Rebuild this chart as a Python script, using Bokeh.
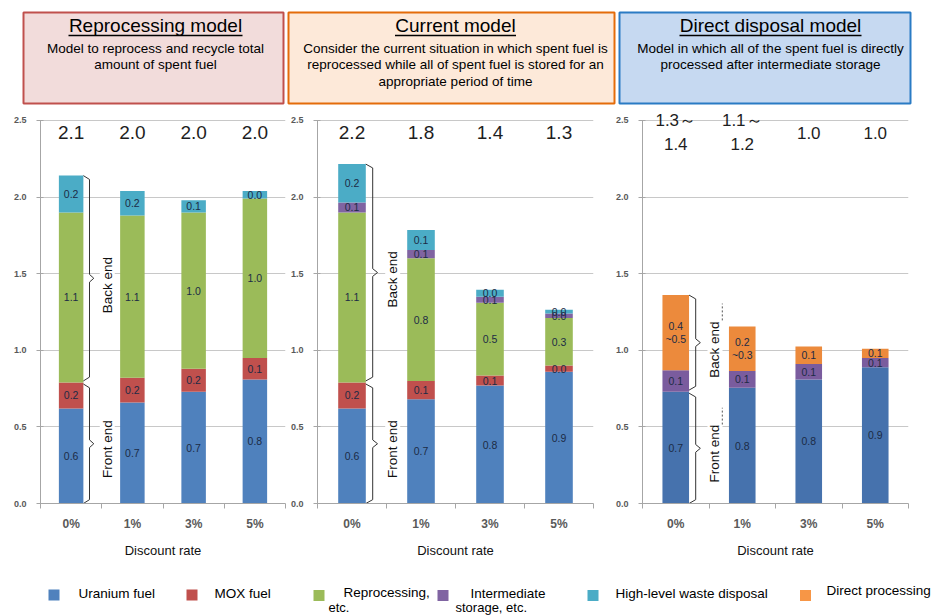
import numpy as np
from bokeh.plotting import figure
from bokeh.layouts import column, row
from bokeh.models import ColumnDataSource, Range1d, FixedTicker, NumeralTickFormatter, Label, LabelSet
from bokeh.core.properties import value
from bokeh.embed import file_html
from bokeh.resources import INLINE

# ---------------- data ----------------
categories = ["0%", "1%", "3%", "5%"]
y_ticks = [0.0, 0.5, 1.0, 1.5, 2.0, 2.5]

# Reprocessing model (yen/kWh)
rep_uranium = [0.62, 0.66, 0.73, 0.81]
rep_mox = [0.17, 0.16, 0.15, 0.14]
rep_reproc = [1.11, 1.06, 1.02, 1.04]
rep_hlw = [0.24, 0.16, 0.08, 0.05]
rep_uranium_lab = ["0.6", "0.7", "0.7", "0.8"]
rep_mox_lab = ["0.2", "0.2", "0.2", "0.1"]
rep_reproc_lab = ["1.1", "1.1", "1.0", "1.0"]
rep_hlw_lab = ["0.2", "0.2", "0.1", "0.0"]
rep_totals = ["2.1", "2.0", "2.0", "2.0"]

# Current model
cur_uranium = [0.62, 0.68, 0.77, 0.86]
cur_mox = [0.17, 0.12, 0.065, 0.04]
cur_reproc = [1.11, 0.80, 0.475, 0.31]
cur_inter = [0.065, 0.055, 0.04, 0.03]
cur_hlw = [0.25, 0.13, 0.045, 0.025]
cur_uranium_lab = ["0.6", "0.7", "0.8", "0.9"]
cur_mox_lab = ["0.2", "0.1", "0.1", "0.0"]
cur_reproc_lab = ["1.1", "0.8", "0.5", "0.3"]
cur_inter_lab = ["0.1", "0.1", "0.1", "0.0"]
cur_hlw_lab = ["0.2", "0.1", "0.0", "0.0"]
cur_totals = ["2.2", "1.8", "1.4", "1.3"]

# Direct disposal model
dir_uranium = [0.73, 0.755, 0.81, 0.89]
dir_inter = [0.14, 0.11, 0.10, 0.06]
dir_direct = [0.49, 0.29, 0.115, 0.06]
dir_uranium_lab = ["0.7", "0.8", "0.8", "0.9"]
dir_inter_lab = ["0.1", "0.1", "0.1", "0.1"]
dir_direct_lab = ["0.4\n~0.5", "0.2\n~0.3", "0.1", "0.1"]
dir_totals = ["1.3\uff5e\n1.4", "1.1\uff5e\n1.2", "1.0", "1.0"]

header_titles = ["Reprocessing model", "Current model", "Direct disposal model"]
header_notes = [
    "Model to reprocess and recycle total\namount of spent fuel",
    "Consider the current situation in which spent fuel is\nreprocessed while all of spent fuel is stored for an\nappropriate period of time",
    "Model in which all of the spent fuel is directly\nprocessed after intermediate storage",
]

legend_names = ["Uranium fuel", "MOX fuel", "Reprocessing,", "Intermediate",
                "High-level waste disposal", "Direct processing"]
legend_second = ["", "", "etc.", "storage, etc.", "", ""]

# ---------------- styles ----------------
FONT = "Liberation Sans"
C_URANIUM = "#4f81bd"
C_MOX = "#c0504d"
C_REPROC = "#9bbb59"
C_INTER = "#8064a2"
C_HLW = "#4bacc6"
C_DIRECT = "#f79646"
C_URANIUM_D = "#4672ad"
C_DIRECT_D = "#ec8a3c"
C_INTER_D = "#7a5c9e"
legend_colors = [C_URANIUM, C_MOX, C_REPROC, C_INTER, C_HLW, C_DIRECT]
LABEL_COLOR = "#1c2b45"
AXIS_COLOR = "#a6a6a6"
TICK_TEXT = "#595959"
Y_TOP = 2.578   # a little head-room above the 2.5 tick for the total labels


def blank_fig(width, height, xr, yr):
    p = figure(width=width, height=height, x_range=xr, y_range=yr,
               output_backend="svg", toolbar_location=None,
               min_border=0)
    p.axis.visible = False
    p.grid.visible = False
    p.outline_line_color = None
    return p


def brace(x0, xv, xt, y_bot, y_top, d=0.025):
    ymid = (y_bot + y_top) / 2
    xs = [x0, xv, xv, xt, xv, xv, x0]
    ys = [y_top, y_top - d, ymid + d, ymid, ymid - d, y_bot + d, y_bot]
    return xs, ys


def panel(width, left, right, stacks, labels, colors, totals, total_size, n_front,
          leaders=False):
    n = len(categories)
    xs = [i + 0.5 for i in range(n)]
    p = figure(width=width, height=455, x_range=Range1d(0, n), y_range=Range1d(0, Y_TOP),
               output_backend="svg", toolbar_location=None,
               min_border_left=left, min_border_right=right,
               min_border_top=0, min_border_bottom=60)
    p.outline_line_color = None
    p.xgrid.visible = False
    p.ygrid.grid_line_color = "#c8c8c8"
    p.ygrid.ticker = FixedTicker(ticks=y_ticks)

    bottoms = []
    bottom = np.zeros(n)
    for vals, col in zip(stacks, colors):
        vals = np.array(vals, dtype=float)
        bottoms.append(bottom.copy())
        src = ColumnDataSource(dict(x=xs, bottom=bottom, top=bottom + vals))
        p.vbar(x="x", bottom="bottom", top="top", width=0.4, source=src,
               fill_color=col, line_color=None)
        bottom = bottom + vals
    total_top = bottom

    for vals, labs, b in zip(stacks, labels, bottoms):
        vals = np.array(vals, dtype=float)
        src = ColumnDataSource(dict(x=xs, y=b + vals / 2, t=labs))
        p.text(x="x", y="y", text="t", source=src, text_align="center",
               text_baseline="middle", text_font=value(FONT), text_font_size="10.5px",
               text_color=LABEL_COLOR, text_line_height=1.05)

    # totals above the bars
    tsrc = ColumnDataSource(dict(x=xs, y=[2.42] * n, t=totals))
    p.text(x="x", y="y", text="t", source=tsrc, text_align="center",
           text_baseline="middle", text_font=value(FONT),
           text_font_size=total_size, text_color="#1e1e1e", text_line_height=1.25)

    # braces for first bar: front end / back end
    front_top = float(bottoms[n_front][0])
    top0 = float(total_top[0])
    fx, fy = brace(0.70, 0.80, 0.87, 0.0, front_top - 0.01)
    bx, by = brace(0.70, 0.80, 0.87, front_top + 0.01, top0)
    p.line(fx, fy, line_color="#333333", line_width=1)
    p.line(bx, by, line_color="#333333", line_width=1)
    for txt, ymid in (("Back end", (front_top + top0) / 2 - 0.04),
                      ("Front end", front_top / 2 - 0.04)):
        p.add_layout(Label(x=1.09, y=ymid, text=txt, angle=np.pi / 2,
                           text_align="center", text_baseline="middle",
                           text_font=FONT, text_font_size="13.5px", text_color="#111111",
                           background_fill_color="white"))
        if leaders:
            p.segment(x0=[1.2], x1=[1.2], y0=[ymid + 0.19], y1=[ymid + 0.3],
                      line_color="#555555", line_width=1, line_dash="2 2")

    # axes
    p.xaxis.ticker = FixedTicker(ticks=xs, minor_ticks=list(range(n + 1)))
    p.xaxis.major_label_overrides = {x: c for x, c in zip(xs, categories)}
    p.xaxis.major_tick_out = 0
    p.xaxis.major_tick_in = 0
    p.xaxis.minor_tick_out = 5
    p.xaxis.minor_tick_in = 0
    p.xaxis.minor_tick_line_color = AXIS_COLOR
    p.xaxis.axis_line_color = AXIS_COLOR
    p.xaxis.major_label_text_font = FONT
    p.xaxis.major_label_text_font_size = "12px"
    p.xaxis.major_label_text_font_style = "bold"
    p.xaxis.major_label_text_color = TICK_TEXT
    p.xaxis.major_label_standoff = 8
    p.xaxis.axis_label = "Discount rate"
    p.xaxis.axis_label_text_font = FONT
    p.xaxis.axis_label_text_font_style = "normal"
    p.xaxis.axis_label_text_font_size = "13px"
    p.xaxis.axis_label_text_color = "#111111"
    p.xaxis.axis_label_standoff = 9

    p.yaxis.bounds = (0, 2.5)
    p.yaxis.ticker = FixedTicker(ticks=y_ticks)
    p.yaxis.formatter = NumeralTickFormatter(format="0.0")
    p.yaxis.major_tick_out = 4
    p.yaxis.major_tick_in = 3
    p.yaxis.minor_tick_line_color = None
    p.yaxis.major_tick_line_color = AXIS_COLOR
    p.yaxis.axis_line_color = AXIS_COLOR
    p.yaxis.major_label_text_font = FONT
    p.yaxis.major_label_text_font_size = "9px"
    p.yaxis.major_label_text_font_style = "bold"
    p.yaxis.major_label_text_color = TICK_TEXT
    p.yaxis.major_label_standoff = 10
    return p


# ---------------- header ----------------
header = blank_fig(933, 108, Range1d(0, 933), Range1d(108, 0))
box_left = [23, 288, 619]
box_right = [283, 614, 910]
box_fill = ["#f2dcdb", "#fde9d9", "#c6d9f1"]
box_line = ["#c0504d", "#e46c0a", "#2a7bc4"]
text_cx = [155, 455, 770]
title_w = [174, 121, 182]
header.quad(left=box_left, right=box_right, top=[12] * 3, bottom=[103] * 3,
            fill_color=box_fill, line_color=box_line, line_width=2)
header.text(x=text_cx, y=[25] * 3, text=header_titles, text_align="center",
            text_baseline="middle", text_font=value(FONT), text_font_size="19px",
            text_color="#000000")
header.segment(x0=[c - w / 2 for c, w in zip(text_cx, title_w)],
               x1=[c + w / 2 for c, w in zip(text_cx, title_w)],
               y0=[35] * 3, y1=[35] * 3, line_color="#000000", line_width=1.3)
header.text(x=text_cx, y=[40] * 3, text=header_notes, text_align="center",
            text_baseline="top", text_font=value(FONT), text_font_size="13.5px",
            text_color="#000000", text_line_height=1.1)

# ---------------- panels ----------------
p1 = panel(287, 40, 2,
           [rep_uranium, rep_mox, rep_reproc, rep_hlw],
           [rep_uranium_lab, rep_mox_lab, rep_reproc_lab, rep_hlw_lab],
           [C_URANIUM, C_MOX, C_REPROC, C_HLW], rep_totals, "19px", 2)
p1.add_layout(Label(x=-0.47, y=-0.275, text="(yen/kWh)", text_align="left",
                    text_baseline="middle", text_font=FONT, text_font_size="13.5px",
                    text_color="#111111"))
p2 = panel(325, 25, 19,
           [cur_uranium, cur_mox, cur_reproc, cur_inter, cur_hlw],
           [cur_uranium_lab, cur_mox_lab, cur_reproc_lab, cur_inter_lab, cur_hlw_lab],
           [C_URANIUM, C_MOX, C_REPROC, C_INTER, C_HLW], cur_totals, "19px", 2)
p3 = panel(321, 23, 25,
           [dir_uranium, dir_inter, dir_direct],
           [dir_uranium_lab, dir_inter_lab, dir_direct_lab],
           [C_URANIUM_D, C_INTER_D, C_DIRECT_D], dir_totals, "17px", 1, leaders=True)

# ---------------- legend ----------------
leg = blank_fig(933, 53, Range1d(0, 933), Range1d(616, 563))
sw_x = [53.5, 191.5, 318.5, 442.5, 592.5, 805]
sw_y = [594.5, 594.5, 595, 595, 595, 595]
t1_x = [78, 214, 343, 470, 615, 826]
t1_y = [593, 593, 592, 593, 593, 590]
t2_x = [0, 0, 328, 455, 0, 0]
t2_y = [0, 0, 607, 607, 0, 0]
leg.rect(x=sw_x, y=sw_y, width=11, height=11, fill_color=legend_colors, line_color=None)
leg.text(x=t1_x, y=t1_y, text=legend_names, text_align="left", text_baseline="middle",
         text_font=value(FONT), text_font_size="13.5px", text_color="#000000")
sec = [(x, y, t) for x, y, t in zip(t2_x, t2_y, legend_second) if t]
leg.text(x=[s[0] for s in sec], y=[s[1] for s in sec], text=[s[2] for s in sec],
         text_align="left", text_baseline="middle",
         text_font=value(FONT), text_font_size="13px", text_color="#000000")

layout = column(header, row(p1, p2, p3), leg)
open("out.html", "w").write(file_html(layout, INLINE))
